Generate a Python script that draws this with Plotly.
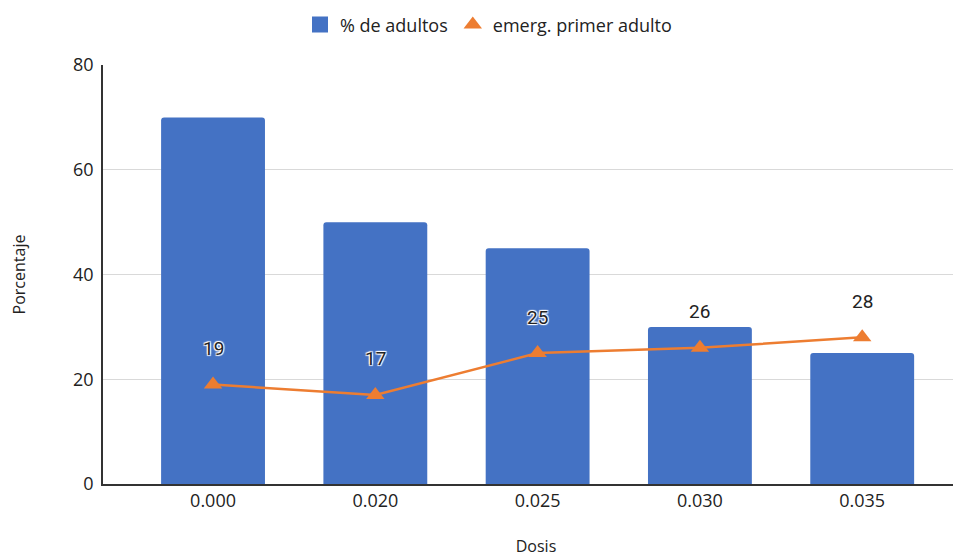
import plotly.graph_objects as go

dosis = ["0.000", "0.020", "0.025", "0.030", "0.035"]
pct_adultos = [70, 50, 45, 30, 25]
emerg_primer = [19, 17, 25, 26, 28]

BLUE = "#4472C4"
ORANGE = "#ED7D31"
FONT = "Open Sans"
TXT = "#222222"

fig = go.Figure()
fig.add_trace(go.Bar(
    x=dosis, y=pct_adultos, name="% de adultos", showlegend=False,
    marker=dict(color=BLUE, line=dict(width=0)),
))
fig.add_trace(go.Scatter(
    x=dosis, y=emerg_primer, name="emerg. primer adulto",
    mode="lines+markers", showlegend=False,
    line=dict(color=ORANGE, width=2.5),
    marker=dict(symbol="triangle-up", size=16, color=ORANGE),
))
# legend-only entries
fig.add_trace(go.Scatter(
    x=[None], y=[None], name="% de adultos", mode="markers",
    marker=dict(symbol="square", size=19, color=BLUE),
))
fig.add_trace(go.Scatter(
    x=[None], y=[None], name="emerg. primer adulto", mode="markers",
    marker=dict(symbol="triangle-up", size=16, color=ORANGE),
))

for i, yv in enumerate(emerg_primer):
    fig.add_annotation(
        x=i, y=yv, text=str(yv), showarrow=False, yshift=36,
        font=dict(family="Roboto", size=19, color=TXT,
                  shadow="1px 1px 1px white, -1px -1px 1px white, 1px -1px 1px white, -1px 1px 1px white"),
    )

fig.update_layout(
    width=961, height=560,
    margin=dict(l=95, r=0, t=57, b=84),
    paper_bgcolor="white", plot_bgcolor="white",
    bargap=0.36, barcornerradius=3,
    font=dict(family=FONT, size=17, color=TXT),
    legend=dict(orientation="h", xref="container", yref="container",
                x=0.50, xanchor="center", y=0.97, yanchor="middle",
                font=dict(family=FONT, size=18, color=TXT),
                itemsizing="trace"),
    xaxis=dict(
        type="category", range=[-0.678, 4.658],
        showline=True, linecolor="#333333", linewidth=1.5,
        ticks="", tickfont=dict(family=FONT, size=18, color=TXT),
        title=dict(text="Dosis", font=dict(family=FONT, size=16), standoff=29),
    ),
    yaxis=dict(
        range=[0, 80], dtick=20,
        showgrid=True, gridcolor="#d9d9d9", gridwidth=1,
        showline=True, linecolor="#333333", linewidth=1.5,
        zeroline=False, ticks="", ticklabelstandoff=4,
        tickfont=dict(family=FONT, size=18, color=TXT),
        title=dict(text="Porcentaje", font=dict(family=FONT, size=16), standoff=47),
    ),
)

fig.write_html("out.html")
